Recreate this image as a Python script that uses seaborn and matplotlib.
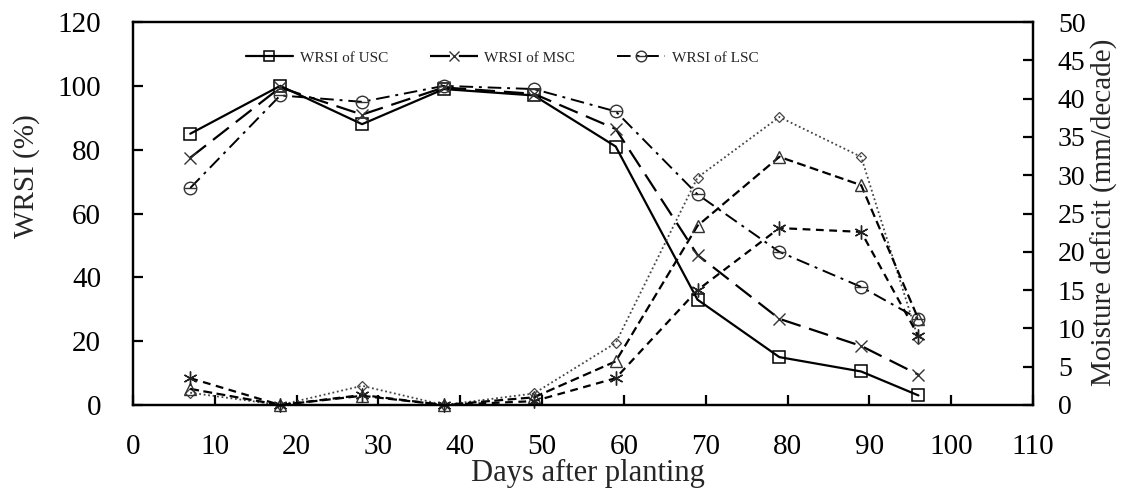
import numpy as np
import matplotlib
matplotlib.use("Agg")
import matplotlib.pyplot as plt
from matplotlib.path import Path
import seaborn as sns

# days after planting
days = [7, 18, 28, 38, 49, 59, 69, 79, 89, 96]

# WRSI (%) - left axis
wrsi_usc = [85, 100, 88, 99, 97, 81, 33, 15, 10.5, 3]
wrsi_msc = [77.5, 99.5, 91, 99.5, 97.5, 86.5, 47, 27, 18.5, 9.5]
wrsi_lsc = [68, 97, 95, 100, 99, 92, 66, 48, 37, 27]

# moisture deficit (mm/decade) - right axis
md_dot = [1.6, 0, 2.5, 0, 1.5, 8.1, 29.7, 37.6, 32.4, 8.6]
md_dash = [2.1, 0, 1.2, 0, 1.0, 5.7, 23.4, 32.4, 28.7, 11.2]
md_short = [3.5, 0, 1.3, 0, 0.5, 3.5, 15.0, 23.1, 22.6, 9.0]

sns.set_style("ticks")
plt.rcParams["font.family"] = ["Liberation Serif", "DejaVu Serif"]

# circle with a bar through it
theta_marker = Path.make_compound_path(Path.unit_circle(),
                                       Path([[-1, 0], [1, 0]]))

fig = plt.figure(figsize=(11.25, 4.9), dpi=100)
ax = fig.add_axes([0.1182, 0.1735, 0.8, 0.7815])
ax2 = ax.twinx()

sns.lineplot(x=days, y=wrsi_usc, ax=ax, color="black", lw=1.6, marker="s",
             markersize=9, markerfacecolor="none", markeredgecolor="black",
             markeredgewidth=1.1, label="WRSI of USC", clip_on=False)
sns.lineplot(x=days, y=wrsi_msc, ax=ax, color="black", lw=1.6, ls=(0, (9, 4)),
             marker="x", markersize=9, markeredgecolor="#333333",
             markeredgewidth=1.0, label="WRSI of MSC", clip_on=False)
sns.lineplot(x=days, y=wrsi_lsc, ax=ax, color="black", lw=1.4,
             ls=(0, (7, 3, 1.5, 3)), marker=theta_marker, markersize=9,
             markerfacecolor="none", markeredgecolor="#333333",
             markeredgewidth=1.0, label="WRSI of LSC", clip_on=False)

sns.lineplot(x=days, y=md_dot, ax=ax2, color="#444444", lw=1.3, ls=(0, (1, 1.5)),
             marker="D", markersize=5, markerfacecolor="none",
             markeredgecolor="#444444", markeredgewidth=0.9, clip_on=False)
sns.lineplot(x=days, y=md_dash, ax=ax2, color="black", lw=1.6, ls=(0, (4, 2)),
             marker="^", markersize=8, markerfacecolor="none",
             markeredgecolor="#333333", markeredgewidth=1.0, clip_on=False)
sns.lineplot(x=days, y=md_short, ax=ax2, color="black", lw=1.6, ls=(0, (3.5, 2.5)),
             marker=(6, 2, 0), markersize=10, markeredgecolor="#222222",
             markeredgewidth=1.0, clip_on=False)

ax.set_xlim(0, 110)
ax.set_ylim(0, 120)
ax2.set_ylim(0, 50)
ax.set_xticks(np.arange(0, 111, 10))
ax.set_yticks(np.arange(0, 121, 20))
ax2.set_yticks(np.arange(0, 51, 5))

for a in (ax, ax2):
    for s in a.spines.values():
        s.set_linewidth(1.6)
        s.set_color("black")
ax.tick_params(axis="both", direction="in", length=7, width=1.6,
               labelsize=21, colors="black")
ax.tick_params(axis="x", pad=21)
ax.tick_params(axis="y", pad=23)
ax2.tick_params(axis="y", direction="in", length=7, width=1.6,
                labelsize=20, pad=18, colors="black")

ax.set_xlabel("Days after planting", fontsize=22)
ax.set_ylabel("WRSI (%)", fontsize=21)
ax2.set_ylabel("Moisture deficit (mm/decade)", fontsize=21)
ax.xaxis.set_label_coords(0.506, -0.14)
ax.yaxis.set_label_coords(-0.103, 0.597)
ax2.yaxis.set_label_coords(1.064, 0.503)

leg = ax.legend(loc="center", bbox_to_anchor=(0.41, 0.907), ncol=3,
                frameon=False, fontsize=11, handlelength=3.1,
                columnspacing=2.75, handletextpad=0.45, markerscale=0.85)

fig.savefig("out.png", dpi=100)
